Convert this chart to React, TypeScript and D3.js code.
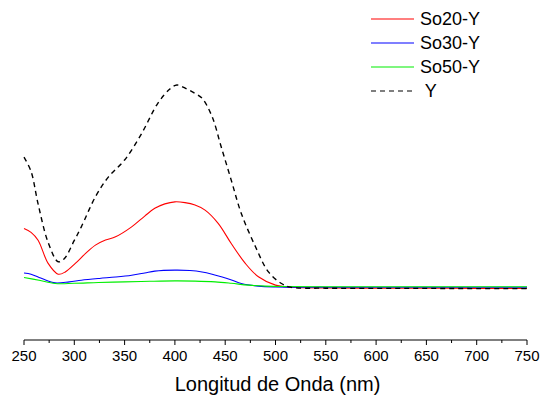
import React, { useEffect, useRef } from 'react';
import * as d3 from 'd3';

// wavelength (nm) and relative absorbance
const yWl = [250, 257, 264, 274, 284, 290, 300, 307, 321, 334, 350, 367, 383, 395, 402, 412, 420, 427, 437, 446, 456, 466, 480, 493, 506, 515, 550, 600, 650, 700, 750];
const yVals = [0.64, 0.57, 0.41, 0.22, 0.125, 0.14, 0.23, 0.297, 0.445, 0.543, 0.626, 0.757, 0.905, 0.975, 0.995, 0.975, 0.954, 0.93, 0.839, 0.691, 0.527, 0.363, 0.2, 0.075, 0.018, 0.0, -0.005, -0.006, -0.006, -0.007, -0.007];

const so20Wl = [250, 257, 264, 274, 284, 291, 301, 311, 321, 331, 341, 357, 370, 380, 390, 400, 410, 420, 430, 443, 456, 470, 483, 500, 515, 550, 600, 650, 700, 750];
const so20Vals = [0.289, 0.27, 0.231, 0.117, 0.064, 0.075, 0.117, 0.165, 0.207, 0.232, 0.248, 0.297, 0.35, 0.388, 0.41, 0.42, 0.416, 0.404, 0.379, 0.314, 0.215, 0.117, 0.051, 0.01, 0.0, -0.004, -0.005, -0.005, -0.006, -0.006];

const so30Wl = [250, 257, 264, 272, 281, 295, 307, 325, 341, 357, 370, 380, 400, 415, 427, 437, 447, 457, 466, 483, 500, 550, 600, 650, 700, 750];
const so30Vals = [0.07, 0.064, 0.05, 0.034, 0.021, 0.026, 0.034, 0.043, 0.05, 0.059, 0.07, 0.079, 0.084, 0.082, 0.075, 0.064, 0.05, 0.034, 0.018, 0.005, 0.001, 0.0, 0.0, 0.0, 0.0, 0.0];

const so50Wl = [250, 265, 281, 300, 324, 350, 375, 400, 420, 440, 456, 473, 490, 510, 550, 600, 650, 700, 750];
const so50Vals = [0.048, 0.034, 0.018, 0.019, 0.023, 0.026, 0.029, 0.031, 0.03, 0.026, 0.019, 0.01, 0.005, 0.003, 0.002, 0.002, 0.002, 0.002, 0.002];

const xTicks = [250, 300, 350, 400, 450, 500, 550, 600, 650, 700, 750];

const series = [
  { label: 'So20-Y', wl: so20Wl, vals: so20Vals, color: '#ff0000', dash: null },
  { label: 'So30-Y', wl: so30Wl, vals: so30Vals, color: '#0000ff', dash: null },
  { label: 'So50-Y', wl: so50Wl, vals: so50Vals, color: '#00ee00', dash: null },
  { label: ' Y', wl: yWl, vals: yVals, color: '#000000', dash: '5,4' },
];

const W = 541;
const H = 399;
const font = 'Arial, "Liberation Sans", sans-serif';

const App: React.FC = () => {
  const svgRef = useRef<SVGSVGElement | null>(null);

  useEffect(() => {
    if (!svgRef.current) return;
    const svg = d3.select(svgRef.current);
    svg.selectAll('*').remove();

    const x = d3.scaleLinear().domain([250, 750]).range([24, 527]);
    const y = d3.scaleLinear().domain([-0.26, 1.0]).range([340, 84]);

    // X axis
    const axis = svg.append('g').attr('transform', 'translate(0,340)');
    axis.append('line')
      .attr('x1', x(250)).attr('x2', x(750))
      .attr('stroke', '#000').attr('stroke-width', 1);
    const minor = d3.range(275, 750, 50);
    axis.selectAll('.minor')
      .data(minor)
      .enter().append('line')
      .attr('x1', d => x(d)).attr('x2', d => x(d))
      .attr('y1', 0).attr('y2', 3)
      .attr('stroke', '#000');
    axis.selectAll('.major')
      .data(xTicks)
      .enter().append('line')
      .attr('x1', d => x(d)).attr('x2', d => x(d))
      .attr('y1', 0).attr('y2', 5)
      .attr('stroke', '#000');
    axis.selectAll('text')
      .data(xTicks)
      .enter().append('text')
      .attr('x', d => x(d))
      .attr('y', 21)
      .attr('text-anchor', 'middle')
      .style('font-family', font)
      .style('font-size', '15px')
      .text(d => d);

    svg.append('text')
      .attr('x', x(500) + 2)
      .attr('y', 391)
      .attr('text-anchor', 'middle')
      .style('font-family', font)
      .style('font-size', '20px')
      .text('Longitud de Onda (nm)');

    // curves
    const line = d3.line<[number, number]>()
      .x(d => x(d[0]))
      .y(d => y(d[1]))
      .curve(d3.curveCatmullRom.alpha(0.5));

    series.forEach(s => {
      const pts: [number, number][] = s.wl.map((w, i) => [w, s.vals[i]]);
      svg.append('path')
        .attr('d', line(pts) ?? '')
        .attr('fill', 'none')
        .attr('stroke', s.color)
        .attr('stroke-width', s.dash ? 1.4 : 1.1)
        .attr('stroke-dasharray', s.dash ?? null);
    });

    // legend
    const legend = svg.append('g').attr('transform', 'translate(371,19)');
    series.forEach((s, i) => {
      const g = legend.append('g').attr('transform', `translate(0,${i * 24})`);
      g.append('line')
        .attr('x1', 0).attr('x2', 43)
        .attr('stroke', s.color)
        .attr('stroke-width', s.dash ? 1.2 : 1.1)
        .attr('stroke-dasharray', s.dash ?? null);
      g.append('text')
        .attr('x', 49)
        .attr('y', 0)
        .attr('dy', '0.36em')
        .style('font-family', font)
        .style('font-size', '18px')
        .style('white-space', 'pre')
        .attr('xml:space', 'preserve')
        .text(s.label);
    });
  }, []);

  return (
    <svg
      ref={svgRef}
      width={W}
      height={H}
      style={{ position: 'absolute', left: 0, top: 0, background: '#fff' }}
    />
  );
};

export default App;
